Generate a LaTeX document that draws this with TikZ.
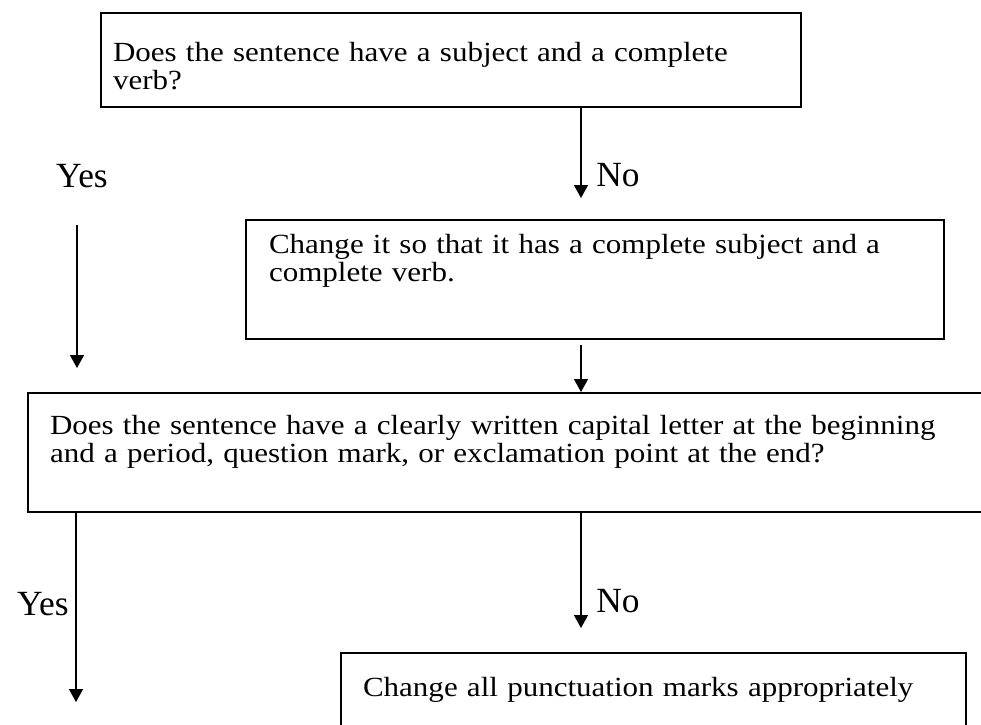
\documentclass[tikz,border=0pt]{standalone}
\usepackage{fontspec}
\setmainfont{Liberation Serif}
\newfontfamily\boxfont[FakeStretch=1.12]{Liberation Serif}
\usetikzlibrary{arrows.meta}
\tikzset{
  qbox/.style={draw, line width=1pt, anchor=north west, align=left, inner ysep=0pt,
    font=\boxfont\fontsize{13.85pt}{14.4pt}\selectfont},
  arr/.style={line width=0.7pt, -{Triangle[width=7pt,length=6.5pt]}},
  lbl/.style={font=\fontsize{17.7pt}{20pt}\selectfont, inner sep=0pt}
}
\begin{document}
\begin{tikzpicture}[x=0.5pt, y=-0.5pt]
  \useasboundingbox (0,0) rectangle (981,724);
  % Columns of the arrows
  \coordinate (colL) at (77,0);
  \coordinate (colR) at (581,0);
  \coordinate (yes2end) at (76,702);
  % Boxes
  \node[qbox, inner xsep=6pt, text width=338pt, text height=24pt, text depth=23pt]
    (q1) at (100,12) {Does the sentence have a subject and a complete\\verb?};
  \node[qbox, inner xsep=11.5pt, text width=326pt, text height=16.5pt, text depth=43pt]
    (fix1) at (245,219) {Change it so that it has a complete subject and a\\complete verb.};
  \node[qbox, inner xsep=11pt, text width=459.5pt, text height=20.5pt, text depth=39pt]
    (q2) at (27,392) {Does the sentence have a clearly written capital letter at the beginning\\and a period, question mark, or exclamation point at the end?};
  \node[qbox, inner xsep=11pt, text width=290.5pt, text height=21.5pt, text depth=25pt]
    (fix2) at (340,652) {Change all punctuation marks appropriately};
  % Arrows
  \draw[arr, shorten >=10.5pt] (q1.south -| colR) -- (fix1.north -| colR);
  \draw[arr, shorten <=58.5pt, shorten >=12pt] (q1.south -| colL) -- (q2.north -| colL);
  \draw[arr, shorten <=2.5pt] (fix1.south -| colR) -- (q2.north -| colR);
  \draw[arr] (q2.south -| yes2end) -- (yes2end);
  \draw[arr, shorten >=12pt] (q2.south -| colR) -- (fix2.north -| colR);
  % Labels
  \node[lbl, anchor=base] (yes1) at (82,187) {Yes};
  \node[lbl, anchor=base west] (no1) at (596,186) {No};
  \node[lbl, anchor=base east] (yes2) at (69,615) {Yes};
  \node[lbl, anchor=base west] (no2) at (596,612) {No};
\end{tikzpicture}
\end{document}
